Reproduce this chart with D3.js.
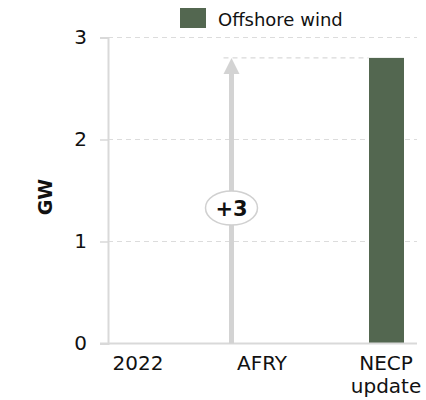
<!DOCTYPE html>
<html>
<head>
<meta charset="utf-8">
<script src="https://cdn.jsdelivr.net/npm/d3@7"></script>
<style>
  html, body { margin: 0; padding: 0; background: #fff; }
  svg { display: block; font-family: "DejaVu Sans", Verdana, sans-serif; }
</style>
</head>
<body>
<svg id="chart" width="426" height="400"></svg>
<script>
const categories = ["2022", "AFRY", "NECP update"];
const categoryLines = [["2022"], ["AFRY"], ["NECP", "update"]];
const offshoreWind = [0, 0, 2.8];
const yTicks = [0, 1, 2, 3];
const seriesName = "Offshore wind";
const deltaLabel = "+3";
const deltaFrom = 0, deltaTo = 2.8;

const svg = d3.select("#chart");
const W = 426, H = 400;
const green = "#536750";
const gray = "#d3d3d3";

const y = d3.scaleLinear().domain([0, 3]).range([343.5, 37.5]);
const x = d3.scalePoint().domain(categories).range([138, 386]);

// gridlines
svg.append("g").selectAll("line").data(yTicks.filter(d => d > 0)).join("line")
  .attr("x1", 108).attr("x2", 417)
  .attr("y1", d => y(d)).attr("y2", d => y(d))
  .attr("stroke", "#dcdcdc").attr("stroke-width", 1).attr("stroke-dasharray", "5,4");

// y axis
const yAxis = d3.axisLeft(y).tickValues(yTicks).tickSize(8).tickPadding(13).tickFormat(d3.format("d"));
const gy = svg.append("g").attr("transform", "translate(108,0)").call(yAxis);
gy.select(".domain").attr("stroke", "#d9d9d9").attr("stroke-width", 2);
gy.selectAll(".tick line").attr("stroke", "#d9d9d9").attr("stroke-width", 1.5);
gy.selectAll(".tick text").attr("font-size", 20).attr("fill", "#111").attr("font-family", "DejaVu Sans, Verdana, sans-serif");

// y title
svg.append("text").attr("transform", "translate(52,197) rotate(-90)")
  .attr("text-anchor", "middle").attr("font-weight", "bold").attr("font-size", 19).attr("fill", "#111").text("GW");

// bars
const bw = 35;
svg.append("g").selectAll("rect").data(categories.map((c, i) => ({c, v: offshoreWind[i]})).filter(d => d.v > 0)).join("rect")
  .attr("x", d => x(d.c) - bw / 2 + 0.5).attr("width", bw)
  .attr("y", d => y(d.v)).attr("height", d => y(0) - y(d.v))
  .attr("fill", green);

// x baseline
svg.append("line").attr("x1", 100).attr("x2", 417).attr("y1", y(0)).attr("y2", y(0))
  .attr("stroke", "#d9d9d9").attr("stroke-width", 2);

// x labels
const xl = svg.append("g").selectAll("text").data(categories).join("text")
  .attr("text-anchor", "middle").attr("font-size", 20).attr("fill", "#111")
  .attr("x", d => x(d)).attr("y", 370);
xl.each(function(d, i) {
  const t = d3.select(this);
  categoryLines[i].forEach((ln, j) => {
    t.append("tspan").attr("x", x(d)).attr("dy", j === 0 ? 0 : 23).text(ln);
  });
});

// delta arrow
const ax = x("AFRY") - 30.5;
svg.append("line").attr("x1", ax - 8).attr("x2", x("NECP update") - bw / 2)
  .attr("y1", y(deltaTo)).attr("y2", y(deltaTo))
  .attr("stroke", "#cfcfcf").attr("stroke-width", 1).attr("stroke-dasharray", "5,4");
svg.append("line").attr("x1", ax).attr("x2", ax).attr("y1", y(deltaFrom)).attr("y2", y(deltaTo) + 14)
  .attr("stroke", gray).attr("stroke-width", 5);
const tipY = y(deltaTo);
svg.append("path").attr("d", `M${ax},${tipY} L${ax + 8},${tipY + 16} L${ax - 8},${tipY + 16} Z`).attr("fill", gray);

const ly = 208;
svg.append("ellipse").attr("cx", ax).attr("cy", ly).attr("rx", 26).attr("ry", 17)
  .attr("fill", "#fff").attr("stroke", "#d0d0d0").attr("stroke-width", 1.5);
svg.append("text").attr("x", ax).attr("y", ly + 7.5).attr("text-anchor", "middle")
  .attr("font-weight", "bold").attr("font-size", 21).attr("fill", "#111").text(deltaLabel);

// legend
svg.append("rect").attr("x", 180).attr("y", 8).attr("width", 26).attr("height", 20).attr("fill", green);
svg.append("text").attr("x", 218).attr("y", 26).attr("font-size", 18).attr("fill", "#111").text(seriesName);
</script>
</body>
</html>
